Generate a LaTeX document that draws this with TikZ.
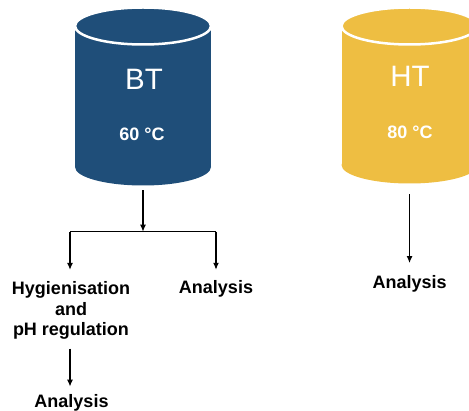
\documentclass[tikz,border=0pt]{standalone}
\usepackage{fontspec}
\setmainfont{Liberation Sans}
\usetikzlibrary{arrows.meta}
\definecolor{btblue}{HTML}{1F4E79}
\definecolor{htgold}{HTML}{EEBE42}

% storage tank: centre x, top-face y, bottom-face y, colour
\newcommand\drawtank[4]{%
  \fill[#4] (#1-68,#2) rectangle (#1+68,#3);
  \fill[#4] (#1,#3) ellipse [x radius=68, y radius=18.5];
  \filldraw[fill=#4, draw=white, line width=2.5pt] (#1,#2) ellipse [x radius=68, y radius=18.5];
}

\begin{document}
\begin{tikzpicture}[x=1pt, y=-1pt,
  lbl/.style={font=\bfseries\fontsize{18}{20.5}\selectfont, align=center, text=black, inner sep=0pt},
  tankname/.style={font=\fontsize{29.5}{34}\selectfont, text=white, inner sep=0pt, anchor=base},
  temp/.style={font=\bfseries\fontsize{18}{21}\selectfont, text=white, inner sep=0pt, anchor=base},
  tankbox/.style={minimum width=136pt, inner sep=0pt},
  flow/.style={draw=black, line width=1.2pt, -{Latex[length=7pt,width=6pt]}},
  link/.style={draw=black, line width=1.2pt}]
\useasboundingbox (0,0) rectangle (469,411);
\clip (0,0) rectangle (469,411);

% tanks
\drawtank{143}{26}{167}{btblue}
\drawtank{409.5}{26}{165}{htgold}
\node[tankbox, minimum height=178pt] (btank) at (143,96.5) {};
\node[tankbox, minimum height=176pt] (htank) at (409.5,95.5) {};

\node[tankname] (btname) at (144,89.3) {BT};
\node[temp] (bttemp) at (142,141) {60 °C};
\node[tankname] (htname) at (410,86.5) {HT};
\node[temp] (httemp) at (410,138.5) {80 °C};

% labels
\node[lbl] (hyg) at (71,310.5) {Hygienisation\\and\\pH regulation};
\node[lbl, anchor=base] (anaR) at (216,294) {Analysis};
\node[lbl, anchor=base] (anaL) at (71.5,407.3) {Analysis};
\node[lbl, anchor=base] (anaH) at (409.7,288.3) {Analysis};

% fork below BT
\coordinate (fork) at (143,231.7);
\coordinate (forkL) at (70,231.7);
\coordinate (forkR) at (216,231.7);

\draw[flow, shorten <=4.5pt] (btank.south) -- (fork);
\draw[link] (forkL) -- (forkR);
\draw[flow, shorten >=11.5pt] (forkL) -- (forkL |- hyg.north);
\draw[flow, shorten >=11pt] (forkR) -- (forkR |- anaR.north);
\draw[flow, shorten <=9pt, shorten >=7.5pt] (hyg.south -| forkL) -- (forkL |- anaL.north);

% HT branch
\draw[flow, shorten <=10.5pt, shorten >=12pt] (htank.south) -- (htank.south |- anaH.north);
\end{tikzpicture}
\end{document}
